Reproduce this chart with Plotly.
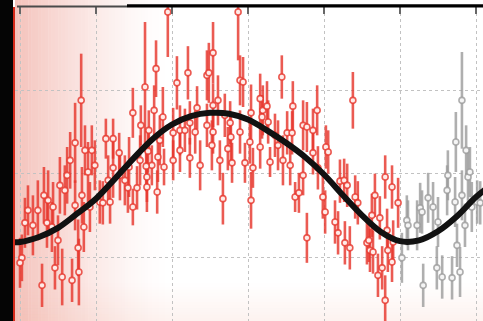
import plotly.graph_objects as go

# ---- data (phase, velocity-like value, 1-sigma error) ----
red_phase = [0.005, 0.0, 0.013, 0.034, 0.047, 0.058, 0.074, 0.071, 0.087, 0.092,
             0.111, 0.1, 0.084, 0.124, 0.118, 0.137, 0.155, 0.153, 0.145, 0.163,
             0.168, 0.179, 0.184, 0.21, 0.218, 0.237, 0.245, 0.287, 0.297, 0.308,
             0.334, 0.334, 0.263, 0.361, 0.161, 0.145, 0.171, 0.226, 0.245, 0.261,
             0.297, 0.329, 0.318, 0.353, 0.358, 0.339, 0.389, 0.376, 0.413, 0.403,
             0.421, 0.434, 0.442, 0.447, 0.466, 0.492, 0.497, 0.508, 0.508, 0.492,
             0.508, 0.505, 0.521, 0.539, 0.553, 0.555, 0.547, 0.574, 0.579, 0.587,
             0.579, 0.608, 0.632, 0.639, 0.65, 0.637, 0.653, 0.689, 0.718, 0.703,
             0.716, 0.745, 0.755, 0.771, 0.782, 0.605, 0.632, 0.771, 0.379, 0.403,
             0.534, 0.608, 0.592, 0.613, 0.724, 0.734, 0.745, 0.755, 0.658, 0.876,
             0.805, 0.811, 0.797, 0.803, 0.829, 0.837, 0.842, 0.853, 0.861, 0.855,
             0.868, 0.882, 0.889, 0.913, 0.918, 0.926, 0.921, 0.929, 0.934, 0.947,
             0.942, 0.953, 0.961, 0.961, 0.968, 0.966, 0.979, 0.982, 0.995, 0.979,
             0.474, 0.447, 0.692, 0.711, 0.784, 0.679, 0.421, 0.526, 0.558, 0.671,
             0.021, 0.063, 0.105, 0.197, 0.276, 0.316, 0.232, 0.132, 0.189, 0.347,
             0.368, 0.363, 0.332, 0.337, 0.461, 0.284]
red_value = [-0.1, -0.7, 4.1, 3.8, 5.6, -3.4, 6.8, 4.1, 6.0, -1.3,
             -2.4, 2.0, 3.6, 9.8, 8.0, -2.8, -1.8, 1.1, 6.2, 7.4,
             3.6, 10.2, 6.0, 6.6, 6.5, 6.6, 10.7, 10.8, 6.0, 8.3,
             9.6, 8.4, 9.8, 7.8, 18.8, 13.7, 12.8, 14.2, 14.2, 12.5,
             17.3, 20.4, 15.8, 17.6, 22.6, 15.2, 29.4, 16.8, 20.9, 14.9,
             15.2, 15.2, 22.1, 16.1, 17.9, 21.8, 22.1, 24.5, 18.2, 15.8,
             15.0, 13.4, 18.8, 17.0, 16.1, 14.4, 13.0, 29.4, 21.2, 21.0,
             15.0, 17.3, 19.0, 17.6, 18.1, 16.8, 16.2, 21.6, 18.1, 14.9,
             14.9, 15.8, 15.6, 15.2, 17.6, 13.8, 13.2, 12.5, 10.8, 11.6,
             7.0, 6.8, 11.3, 10.7, 7.2, 7.7, 9.8, 2.3, 11.4, 18.8,
             13.2, 12.6, 7.2, 5.4, 4.2, 2.9, 9.1, 9.2, 8.6, 1.7,
             1.1, 7.2, 6.5, 1.7, 2.0, 5.0, 0.8, 0.6, 7.4, 4.7,
             -2.2, -1.3, -5.2, 9.6, 0.8, 3.2, 8.4, 1.8, 6.5, -0.6,
             11.0, 11.9, 11.6, 11.0, 10.7, 13.4, 12.8, 11.6, 11.3, 14.6,
             5.6, 7.4, 8.6, 11.0, 9.2, 11.6, 9.2, 11.6, 12.8, 11.0,
             14.0, 12.0, 10.9, 12.7, 15.0, 8.3]
red_error = [2.8, 3.0, 3.0, 3.6, 3.6, 2.6, 3.6, 3.0, 3.0, 2.6,
             3.4, 3.0, 3.0, 3.4, 3.0, 2.6, 4.0, 3.4, 3.0, 3.4,
             3.0, 3.6, 3.0, 2.6, 2.6, 2.6, 3.6, 3.6, 2.2, 2.6,
             3.0, 3.0, 3.0, 2.6, 5.6, 4.8, 3.0, 2.4, 2.4, 2.4,
             3.0, 7.8, 2.4, 3.0, 3.4, 2.4, 5.4, 3.6, 3.2, 3.0,
             3.0, 2.6, 3.2, 2.6, 2.6, 3.0, 3.6, 3.7, 2.6, 2.6,
             2.6, 3.0, 3.0, 2.6, 2.6, 3.0, 2.6, 5.8, 3.0, 3.0,
             2.6, 3.4, 3.0, 3.0, 3.0, 2.6, 2.6, 2.6, 3.0, 2.6,
             2.6, 3.0, 3.0, 2.6, 3.0, 2.6, 2.6, 2.6, 2.2, 2.4,
             3.1, 3.4, 2.4, 2.4, 1.8, 2.4, 2.4, 3.0, 1.8, 3.4,
             2.6, 2.6, 2.6, 2.6, 2.6, 2.6, 2.6, 2.6, 2.6, 2.6,
             2.6, 2.6, 2.6, 2.6, 2.6, 2.6, 2.6, 2.6, 2.6, 2.6,
             2.6, 2.6, 3.0, 2.6, 2.6, 2.6, 2.6, 2.6, 3.0, 2.4,
             3.0, 2.4, 3.0, 2.4, 2.6, 3.0, 2.6, 2.4, 2.4, 2.6,
             3.0, 3.4, 3.4, 3.0, 3.0, 3.0, 3.0, 3.4, 3.0, 2.4,
             3.0, 3.0, 3.0, 2.6, 2.6, 3.0]

grey_phase = [1.005, 1.018, 1.021, 1.045, 1.053, 1.058, 1.061, 1.074, 1.087, 1.097,
              1.1, 1.111, 1.126, 1.124, 1.137, 1.145, 1.15, 1.158, 1.163, 1.171,
              1.179, 1.184, 1.189, 1.203, 1.211, 1.163, 1.147, 1.174]
grey_value = [-0.1, 4.4, 3.8, 3.8, 5.9, 5.4, -3.4, 7.1, 6.0, -1.3,
              4.2, -2.4, 9.8, 8.0, -2.5, 6.6, 1.4, -1.8, 7.4, 3.8,
              9.6, 10.2, 6.0, 6.6, 6.5, 18.8, 13.8, 12.8]
grey_error = [3.0, 3.0, 3.0, 3.0, 3.0, 2.6, 2.6, 3.0, 3.0, 2.6,
              3.0, 2.6, 3.0, 3.0, 2.6, 3.0, 2.6, 3.0, 3.0, 2.6,
              3.0, 3.0, 3.0, 2.6, 2.6, 5.8, 3.6, 3.0]

curve_phase = [-0.02, 0.0, 0.05, 0.1, 0.15, 0.2, 0.25, 0.3, 0.35, 0.4, 0.45, 0.5,
               0.55, 0.6, 0.65, 0.7, 0.75, 0.8, 0.85, 0.9, 0.95, 1.0, 1.05, 1.1,
               1.15, 1.2, 1.24]
curve_value = [1.8, 1.8, 2.4, 3.5, 5.2, 7.0, 9.4, 11.9, 14.2, 15.9, 16.9, 17.3,
               17.2, 16.5, 15.2, 13.7, 12.0, 9.9, 7.4, 5.0, 3.0, 1.9, 2.0, 3.1,
               4.9, 7.2, 8.6]

RED = "rgba(230,55,45,0.82)"
GREY = "rgba(155,155,155,0.8)"

W, H = 483, 321
ML, MT = 15, 7
PW, PH = W - ML, H - MT

fig = go.Figure()
fig.add_trace(go.Scatter(
    x=red_phase, y=red_value, mode="markers",
    marker=dict(symbol="circle", size=6, color="rgba(255,235,232,1)",
                line=dict(color=RED, width=1.6)),
    error_y=dict(type="data", array=red_error, color=RED, thickness=2.6, width=0),
    showlegend=False, hoverinfo="skip"))
fig.add_trace(go.Scatter(
    x=grey_phase, y=grey_value, mode="markers",
    marker=dict(symbol="circle", size=6, color="rgba(245,245,245,1)",
                line=dict(color=GREY, width=1.6)),
    error_y=dict(type="data", array=grey_error, color=GREY, thickness=2.6, width=0),
    showlegend=False, hoverinfo="skip"))
fig.add_trace(go.Scatter(
    x=curve_phase, y=curve_value, mode="lines",
    line=dict(color="#111111", width=6, shape="spline", smoothing=1.0),
    showlegend=False, hoverinfo="skip"))

shapes = []
# left red gradient wash
n = 45
x_start, x_end = 15, 165
for i in range(n):
    t = i / n
    a = 0.46 * (1 - t) ** 1.4
    px0 = x_start + (x_end - x_start) * i / n
    px1 = x_start + (x_end - x_start) * (i + 1) / n
    shapes.append(dict(type="rect", xref="paper", yref="paper",
                       x0=(px0 - ML) / PW, x1=(px1 - ML) / PW,
                       y0=0, y1=1 + MT / PH,
                       fillcolor=f"rgba(232,125,110,{a:.3f})",
                       line=dict(width=0), layer="below"))
# bottom faint peach wash
m = 12
for j in range(m):
    py0 = 283 + (321 - 283) * j / m
    py1 = 283 + (321 - 283) * (j + 1) / m
    a = 0.14 * (j + 1) / m
    shapes.append(dict(type="rect", xref="paper", yref="paper",
                       x0=0, x1=1,
                       y0=(H - py1) / PH, y1=(H - py0) / PH,
                       fillcolor=f"rgba(240,170,150,{a:.3f})",
                       line=dict(width=0), layer="below"))
# black strip at the far left
shapes.append(dict(type="rect", xref="paper", yref="paper",
                   x0=-ML / PW, x1=(13 - ML) / PW, y0=-0.01, y1=1 + MT / PH + 0.01,
                   fillcolor="#050505", line=dict(width=0), layer="above"))
# top frame line: thinner grey part on the left, thick black on the right
shapes.append(dict(type="line", xref="paper", yref="paper",
                   x0=(17 - ML) / PW, x1=(127 - ML) / PW, y0=1 + 0.5 / PH, y1=1 + 0.5 / PH,
                   line=dict(color="#4a4a4a", width=2), layer="above"))
shapes.append(dict(type="line", xref="paper", yref="paper",
                   x0=(127 - ML) / PW, x1=1.01, y0=1 + 1.2 / PH, y1=1 + 1.2 / PH,
                   line=dict(color="#000000", width=3.2), layer="above"))

fig.update_layout(
    width=W, height=H,
    margin=dict(l=ML, r=0, t=MT, b=0),
    paper_bgcolor="white", plot_bgcolor="white",
    shapes=shapes,
    xaxis=dict(range=[(ML - 20) / 380, (W - 20) / 380], side="top",
               tick0=0, dtick=0.2, ticks="inside", ticklen=7, tickwidth=2,
               tickcolor="#666666", showticklabels=False,
               showgrid=True, gridcolor="#c2c2c2", gridwidth=1.2, griddash="dot",
               zeroline=False, showline=False),
    yaxis=dict(range=[-7.68, 30.0], tick0=0, dtick=10, showticklabels=False,
               ticks="", showgrid=True, gridcolor="#c2c2c2", gridwidth=1.2,
               griddash="dot", zeroline=False,
               showline=True, linecolor="#d42a1a", linewidth=4),
)

fig.write_html("out.html")
